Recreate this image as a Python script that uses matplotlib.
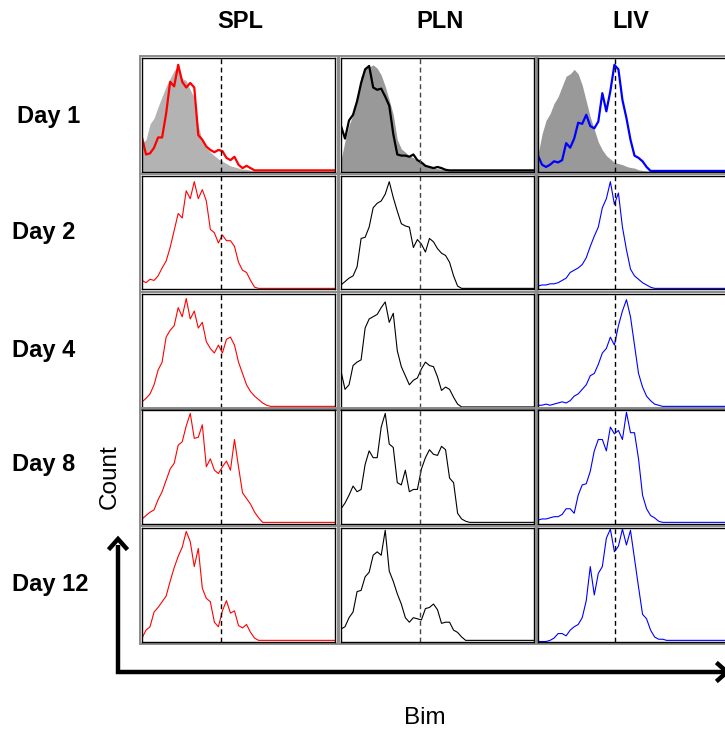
import numpy as np
import matplotlib
matplotlib.use("Agg")
import matplotlib.pyplot as plt
from matplotlib.patches import Rectangle
from matplotlib.lines import Line2D

plt.rcParams['font.family'] = ['Liberation Sans', 'DejaVu Sans']

# ---- data: histogram heights (fraction of panel height), sampled every 4 px ----
tissues = ["SPL", "PLN", "LIV"]
days = ["Day 1", "Day 2", "Day 4", "Day 8", "Day 12"]
colors = ["#ff0000", "#000000", "#0000ff"]
gate = [0.41, 0.41, 0.40]          # dashed reference line, fraction of x range

# isotype / control histograms shown only on Day 1
spl_ctrl = [0.25, 0.28, 0.42, 0.47, 0.57, 0.66, 0.75, 0.82, 0.89, 0.92, 0.82, 0.80, 0.72, 0.65,
            0.40, 0.27, 0.21, 0.17, 0.14, 0.11, 0.09, 0.07, 0.05, 0.04, 0.03, 0.02, 0.02, 0.01, 0.005]
pln_ctrl = [0.10, 0.27, 0.41, 0.50, 0.64, 0.84, 0.91, 0.92, 0.94, 0.91, 0.85, 0.75, 0.63, 0.50,
            0.28, 0.20, 0.17, 0.14, 0.12, 0.10, 0.09, 0.06, 0.04, 0.035, 0.025, 0.02, 0.015, 0.01]
liv_ctrl = [0.15, 0.33, 0.45, 0.51, 0.60, 0.66, 0.75, 0.84, 0.86, 0.90, 0.86, 0.76, 0.62, 0.48,
            0.37, 0.26, 0.19, 0.14, 0.11, 0.08, 0.07, 0.06, 0.045, 0.035, 0.03, 0.015, 0.01, 0.005]

spl_d1 = [0.30, 0.15, 0.16, 0.21, 0.30, 0.30, 0.51, 0.79, 0.75, 0.94, 0.79, 0.74, 0.78, 0.74,
          0.32, 0.28, 0.22, 0.19, 0.17, 0.19, 0.18, 0.12, 0.10, 0.13, 0.06, 0.03, 0.05, 0.03, 0.01]
spl_d2 = [0.08, 0.06, 0.09, 0.08, 0.12, 0.19, 0.25, 0.37, 0.52, 0.67, 0.63, 0.87, 0.80, 0.95,
          0.80, 0.88, 0.78, 0.53, 0.50, 0.41, 0.48, 0.43, 0.43, 0.38, 0.24, 0.17, 0.15, 0.08, 0.02, 0.01]
spl_d4 = [0.05, 0.08, 0.12, 0.20, 0.33, 0.40, 0.62, 0.68, 0.72, 0.88, 0.80, 0.96, 0.78, 0.85,
          0.70, 0.75, 0.58, 0.52, 0.48, 0.55, 0.48, 0.60, 0.62, 0.55, 0.40, 0.30, 0.20, 0.14, 0.10,
          0.07, 0.04, 0.02, 0.01]
spl_d8 = [0.04, 0.07, 0.10, 0.12, 0.21, 0.28, 0.38, 0.48, 0.53, 0.69, 0.72, 0.86, 0.97, 0.75,
          0.76, 0.87, 0.50, 0.57, 0.47, 0.44, 0.50, 0.55, 0.47, 0.74, 0.50, 0.27, 0.22, 0.17, 0.10,
          0.05, 0.01]
spl_d12 = [0.03, 0.10, 0.13, 0.26, 0.30, 0.35, 0.40, 0.53, 0.65, 0.75, 0.83, 0.97, 0.88, 0.66,
           0.82, 0.47, 0.38, 0.35, 0.17, 0.13, 0.27, 0.36, 0.25, 0.27, 0.14, 0.12, 0.15, 0.08, 0.03, 0.01]

pln_d1 = [0.40, 0.29, 0.45, 0.50, 0.62, 0.78, 0.90, 0.93, 0.74, 0.72, 0.73, 0.66, 0.58, 0.33,
          0.15, 0.14, 0.14, 0.13, 0.15, 0.10, 0.08, 0.05, 0.04, 0.03, 0.04, 0.03, 0.015, 0.01]
pln_d2 = [0.04, 0.07, 0.10, 0.12, 0.20, 0.45, 0.46, 0.55, 0.72, 0.76, 0.78, 0.84, 0.95, 0.81,
          0.69, 0.58, 0.56, 0.55, 0.37, 0.44, 0.40, 0.33, 0.45, 0.42, 0.36, 0.32, 0.30, 0.24, 0.12,
          0.03, 0.01]
pln_d4 = [0.32, 0.16, 0.20, 0.37, 0.40, 0.42, 0.70, 0.78, 0.80, 0.82, 0.88, 0.93, 0.75, 0.83,
          0.50, 0.36, 0.28, 0.20, 0.24, 0.26, 0.34, 0.40, 0.37, 0.36, 0.27, 0.15, 0.18, 0.16, 0.09,
          0.03, 0.005]
pln_d8 = [0.13, 0.18, 0.25, 0.33, 0.28, 0.30, 0.52, 0.64, 0.58, 0.58, 0.85, 0.97, 0.70, 0.67,
          0.36, 0.34, 0.47, 0.28, 0.30, 0.30, 0.48, 0.58, 0.65, 0.61, 0.60, 0.68, 0.65, 0.40, 0.36,
          0.09, 0.04, 0.02, 0.01]
pln_d12 = [0.11, 0.13, 0.21, 0.26, 0.44, 0.45, 0.57, 0.61, 0.76, 0.79, 0.76, 0.98, 0.62, 0.53,
           0.42, 0.33, 0.21, 0.17, 0.21, 0.20, 0.19, 0.29, 0.30, 0.33, 0.28, 0.16, 0.17, 0.17, 0.10,
           0.08, 0.04, 0.01]

liv_d1 = [0.14, 0.06, 0.04, 0.06, 0.09, 0.08, 0.10, 0.25, 0.21, 0.29, 0.43, 0.42, 0.50, 0.40,
          0.38, 0.44, 0.69, 0.53, 0.71, 0.94, 0.90, 0.63, 0.47, 0.28, 0.14, 0.12, 0.09, 0.04, 0.005]
liv_d2 = [0.03, 0.04, 0.04, 0.05, 0.05, 0.06, 0.08, 0.10, 0.15, 0.17, 0.19, 0.22, 0.28, 0.38,
          0.47, 0.55, 0.72, 0.80, 0.95, 0.75, 0.85, 0.55, 0.35, 0.18, 0.12, 0.09, 0.06, 0.04, 0.02, 0.01]
liv_d4 = [0.02, 0.02, 0.03, 0.02, 0.03, 0.04, 0.05, 0.04, 0.06, 0.10, 0.12, 0.16, 0.20, 0.28,
          0.30, 0.38, 0.48, 0.52, 0.62, 0.55, 0.72, 0.85, 0.95, 0.80, 0.55, 0.30, 0.18, 0.10, 0.06,
          0.03, 0.02, 0.01]
liv_d8 = [0.03, 0.04, 0.04, 0.05, 0.06, 0.06, 0.08, 0.13, 0.13, 0.09, 0.25, 0.34, 0.35, 0.46,
          0.64, 0.74, 0.74, 0.64, 0.85, 0.79, 0.82, 0.74, 0.98, 0.80, 0.80, 0.57, 0.25, 0.13, 0.07,
          0.05, 0.02, 0.01]
liv_d12 = [0.0, 0.0, 0.0, 0.01, 0.03, 0.07, 0.07, 0.05, 0.10, 0.13, 0.15, 0.21, 0.36, 0.66,
           0.41, 0.60, 0.66, 0.91, 0.99, 0.79, 0.84, 0.99, 0.85, 0.98, 0.73, 0.48, 0.24, 0.20, 0.10,
           0.04, 0.02, 0.02, 0.01]

hists = [[spl_d1, pln_d1, liv_d1],
         [spl_d2, pln_d2, liv_d2],
         [spl_d4, pln_d4, liv_d4],
         [spl_d8, pln_d8, liv_d8],
         [spl_d12, pln_d12, liv_d12]]
controls = [spl_ctrl, pln_ctrl, liv_ctrl]
ctrl_colors = ["#b3b3b3", "#999999", "#999999"]

N_BINS = 49          # samples across a panel
STEP = 4 / 193       # 4 px per sample in a 193 px panel


def padded(vals):
    # histogram tail sits on the baseline at its last value
    v = np.asarray(vals, dtype=float)
    return np.concatenate([v, np.full(N_BINS - len(v), v[-1])])


xs = np.arange(N_BINS) * STEP

W, H = 725, 731
fig = plt.figure(figsize=(W / 100, H / 100), dpi=100)

col_left = [142, 341, 538]
row_top = [58, 176, 294, 410, 528]
pw, ph = 193, 113.5

for r in range(5):
    for c in range(3):
        ax = fig.add_axes([col_left[c] / W, 1 - (row_top[r] + ph) / H, pw / W, ph / H])
        ax.set_xlim(0, xs[-1])
        ax.set_ylim(0, 1)
        ax.set_xticks([]); ax.set_yticks([])
        for s in ax.spines.values():
            s.set_linewidth(1.0); s.set_color('black')
        # outer gray frame
        dx, dy = 2.5 / pw, 2.5 / ph
        ax.add_patch(Rectangle((-dx, -dy), 1 + 2 * dx, 1 + 2 * dy, transform=ax.transAxes,
                               fill=False, ec='#8c8c8c', lw=1.4, clip_on=False))
        if r == 0:
            ax.fill_between(xs, 0, padded(controls[c]), color=ctrl_colors[c], lw=0)
            lw = 1.6
        else:
            lw = 0.8
        ax.plot(xs, padded(hists[r][c]), color=colors[c], lw=lw)
        ax.axvline(gate[c] * xs[-1], color='#444444' if c == 1 else 'black',
                   ls=(0, (3.5, 2.5)), lw=1.0)

# column headers and row labels
head_x = [240, 440, 631]
for c, name in enumerate(tissues):
    fig.text(head_x[c] / W, 1 - 21 / H, name, ha='center', va='center',
             fontsize=17, fontweight='bold')
row_y = [117, 232, 350, 465, 585]
for r, d in enumerate(days):
    fig.text((17 if r == 0 else 12) / W, 1 - row_y[r] / H, d, ha='left', va='center',
             fontsize=17, fontweight='bold')

fig.text(110 / W, 1 - 477 / H, "Count", rotation=90, ha='center', va='center', fontsize=17.5)
fig.text(425 / W, 1 - 718 / H, "Bim", ha='center', va='center', fontsize=17.5)

# axis arrows
cx, cy = 118 / W, 1 - 672 / H
fig.add_artist(Line2D([cx, cx, 1.01], [1 - 545 / H, cy, cy], transform=fig.transFigure,
                      color='black', lw=3.2, solid_joinstyle='miter', solid_capstyle='butt'))
fig.add_artist(Line2D([cx - 8 / W, cx, cx + 8 / W], [1 - 548 / H, 1 - 539 / H, 1 - 548 / H],
                      transform=fig.transFigure, color='black', lw=3.2,
                      solid_joinstyle='miter'))
fig.add_artist(Line2D([718 / W, 727 / W, 718 / W], [cy + 8 / H, cy, cy - 8 / H],
                      transform=fig.transFigure, color='black', lw=3.2,
                      solid_joinstyle='miter'))

fig.savefig("out.png", dpi=100)
